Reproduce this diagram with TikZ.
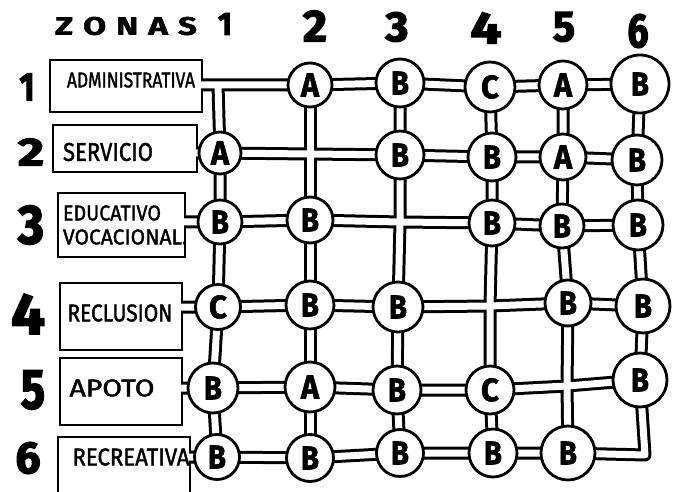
\documentclass[tikz,border=0pt]{standalone}
\usepackage{fontspec}
\setmainfont{Fira Sans}
\newfontfamily\hvfont[FakeBold=3]{Fira Sans}
\newfontfamily\lbfont[FakeBold=1.6]{Fira Sans}
\usepackage{graphicx}
\pgfdeclarelayer{boxes}
\pgfdeclarelayer{pipes}
\pgfsetlayers{boxes,pipes,main}
\newcommand\hvtext[3]{\resizebox{#1pt}{#2pt}{\hvfont\bfseries #3}}
\newcommand\lbtext[3]{\resizebox{#1pt}{#2pt}{\lbfont #3}}
\newcommand\ltr[1]{\resizebox{18pt}{23pt}{\lbfont\bfseries #1}}
\newcommand\pipenet[1]{%
  \draw[#1] (m1) -- (c11.center) -- (c12.center) -- (c13.center) -- (c14.center) -- (c15.center) -- (c16.center);
  \draw[#1] (m2) -- (c21.center) -- (c22.center) -- (c23.center) -- (c24.center) -- (c25.center) -- (c26.center);
  \draw[#1] (m3) -- (c31.center) -- (c32.center) -- (c33.center) -- (c34.center) -- (c35.center) -- (c36.center);
  \draw[#1] (m4) -- (c41.center) -- (c42.center) -- (c43.center) -- (c44.center) -- (c45.center) -- (c46.center);
  \draw[#1] (m5) -- (c51.center) -- (c52.center) -- (c53.center) -- (c54.center) -- (c55.center) -- (c56.center);
  \draw[#1] (m6) -- (c61.center) -- (c62.center) -- (c63.center) -- (c64.center) -- (c65.center) -- (c66.center)
     -- (c56.center) -- (c46.center) -- (c36.center) -- (c26.center) -- (c16.center);
  \draw[#1] (c11.center) -- (c21.center) -- (c31.center) -- (c41.center) -- (c51.center) -- (c61.center);
  \draw[#1] (c12.center) -- (c22.center) -- (c32.center) -- (c42.center) -- (c52.center) -- (c62.center);
  \draw[#1] (c13.center) -- (c23.center) -- (c33.center) -- (c43.center) -- (c53.center) -- (c63.center);
  \draw[#1] (c14.center) -- (c24.center) -- (c34.center) -- (c44.center) -- (c54.center) -- (c64.center);
  \draw[#1] (c15.center) -- (c25.center) -- (c35.center) -- (c45.center) -- (c55.center) -- (c65.center);
}
\begin{document}
\begin{tikzpicture}[x=1pt,y=-1pt,
  zone/.style={circle,draw,line width=2.8pt,fill=white,inner sep=0pt,minimum size=#1pt},
  zone/.default=46,
  zbox/.style={draw,line width=2.2pt,fill=white,inner sep=0pt},
  txt/.style={inner sep=0pt},
  pipeout/.style={line width=13pt,line join=round,shorten <=-2pt},
  pipein/.style={white,line width=7pt,line join=round,shorten <=-2pt}]
\useasboundingbox (0,0) rectangle (681,492);

% header
\node[txt] (zonas) at (126,26) {\resizebox{142pt}{18pt}{\lbfont\bfseries Z\hspace{0.3em}O\hspace{0.3em}N\hspace{0.3em}A\hspace{0.3em}S}};
\node[txt] (k1) at (225,24) {\hvtext{14}{22}{1}};
\node[txt] (k2) at (315,26) {\hvtext{24}{31}{2}};
\node[txt] (k3) at (397,27) {\hvtext{23}{29}{3}};
\node[txt] (k4) at (486,28) {\hvtext{31}{31}{4}};
\node[txt] (k5) at (564,27) {\hvtext{22}{29}{5}};
\node[txt] (k6) at (638,31) {\hvtext{21}{33}{6}};

% row numbers
\node[txt] (r1) at (27,87) {\hvtext{15}{27}{1}};
\node[txt] (r2) at (31,152) {\hvtext{26}{27}{2}};
\node[txt] (r3) at (31,225) {\hvtext{26}{38}{3}};
\node[txt] (r4) at (28,314) {\hvtext{34}{40}{4}};
\node[txt] (r5) at (33,390) {\hvtext{24}{38}{5}};
\node[txt] (r6) at (28,458) {\hvtext{25}{31}{6}};

% boxes
\begin{pgfonlayer}{boxes}
\node[zbox,minimum width=152pt,minimum height=52pt] (b1) at (126,86) {};
\node[zbox,minimum width=144pt,minimum height=47pt] (b2) at (125,148.5) {};
\node[zbox,minimum width=127pt,minimum height=64pt] (b3) at (121.5,225) {};
\node[zbox,minimum width=122pt,minimum height=67pt] (b4) at (121,316.5) {};
\node[zbox,minimum width=122pt,minimum height=67pt] (b5) at (121,391.5) {};
\node[zbox,minimum width=132pt,minimum height=60pt] (b6) at (124,467) {};
\end{pgfonlayer}
\node[txt] (t1) at (131,80) {\lbtext{128}{15}{ADMINISTRATIVA}};
\node[txt] (t2) at (108,152) {\lbtext{90}{18}{SERVICIO}};
\node[txt] (t3a) at (112,213) {\lbtext{98}{15}{EDUCATIVO}};
\node[txt] (t3b) at (125,237) {\lbtext{124}{15}{VOCACIONAL.}};
\node[txt] (t4) at (120,313) {\lbtext{105}{17}{RECLUSION}};
\node[txt] (t5) at (112,388) {\lbtext{85}{17}{APOTO}};
\node[txt] (t6) at (131,457) {\lbtext{117}{17}{RECREATIVA}};

% zone circles
\coordinate (c11) at (218,85);
\node[zone=44] (c12) at (310,85) {\ltr{A}};
\node[zone=48] (c13) at (400,83) {\ltr{B}};
\node[zone=50] (c14) at (490,87) {\ltr{C}};
\node[zone=48] (c15) at (563,85) {\ltr{A}};
\node[zone=58] (c16) at (640,84) {\ltr{B}};

\node[zone=42] (c21) at (220,153) {\ltr{A}};
\coordinate (c22) at (310,154);
\node[zone=48] (c23) at (400,155) {\ltr{B}};
\node[zone=48] (c24) at (492,157) {\ltr{B}};
\node[zone=46] (c25) at (563,157) {\ltr{A}};
\node[zone=50] (c26) at (637,160) {\ltr{B}};

\node[zone=44] (c31) at (220,222) {\ltr{B}};
\node[zone=46] (c32) at (310,220) {\ltr{B}};
\coordinate (c33) at (400,222);
\node[zone=46] (c34) at (492,223) {\ltr{B}};
\node[zone=44] (c35) at (562,226) {\ltr{B}};
\node[zone=50] (c36) at (638,225) {\ltr{B}};

\node[zone=45] (c41) at (218,307) {\ltr{C}};
\node[zone=48] (c42) at (310,305) {\ltr{B}};
\node[zone=50] (c43) at (398,307) {\ltr{B}};
\coordinate (c44) at (490,306);
\node[zone=46] (c45) at (568,303) {\ltr{B}};
\node[zone=54] (c46) at (643,306) {\ltr{B}};

\node[zone=50] (c51) at (213,388) {\ltr{B}};
\node[zone=50] (c52) at (310,387) {\ltr{A}};
\node[zone=48] (c53) at (397,390) {\ltr{B}};
\node[zone=48] (c54) at (490,390) {\ltr{C}};
\coordinate (c55) at (567,386);
\node[zone=54] (c56) at (640,380) {\ltr{B}};

\node[zone=45] (c61) at (217,457) {\ltr{B}};
\node[zone=47] (c62) at (310,458) {\ltr{B}};
\node[zone=47] (c63) at (400,453) {\ltr{B}};
\node[zone=48] (c64) at (493,453) {\ltr{B}};
\node[zone=54] (c65) at (568,453) {\ltr{B}};
\coordinate (c66) at (645,455);

% pipe mouths at the boxes
\coordinate (m1) at (b1.east |- c11);
\coordinate (m2) at (b2.east |- c21);
\coordinate (m3) at (b3.east |- c31);
\coordinate (m4) at (b4.east |- c41);
\coordinate (m5) at (b5.east |- c51);
\coordinate (m6) at (b6.east |- c61);

\begin{pgfonlayer}{pipes}
\pipenet{pipeout}
\pipenet{pipein}
\end{pgfonlayer}
\end{tikzpicture}
\end{document}
